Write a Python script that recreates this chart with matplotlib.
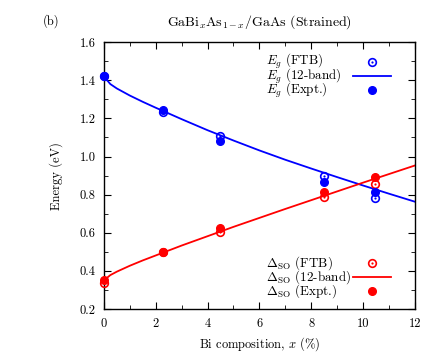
import numpy as np
import matplotlib
matplotlib.use("Agg")
import matplotlib.pyplot as plt
from matplotlib.ticker import MultipleLocator, FuncFormatter

# --- 字型設定 (類 LaTeX) ---
plt.rcParams['font.family'] = ['cmr10', 'DejaVu Serif']
plt.rcParams['mathtext.fontset'] = 'cm'
plt.rcParams['axes.formatter.use_mathtext'] = True
plt.rcParams['font.size'] = 9

# --- 資料 ---
x_pts = [0.0, 2.3, 4.5, 8.5, 10.45]
eg_ftb = [1.42, 1.235, 1.107, 0.897, 0.780]
eg_expt = [1.42, 1.243, 1.079, 0.864, 0.812]
so_ftb = [0.338, 0.497, 0.602, 0.789, 0.854]
so_expt = [0.350, 0.497, 0.623, 0.812, 0.894]

# 12-band 曲線
x_curve = [0, 0.25, 0.5, 1, 1.5, 2, 3, 4, 5, 6, 7, 8, 9, 10, 11, 12]
eg_12band = [1.420, 1.380, 1.357, 1.320, 1.287, 1.256, 1.196, 1.138, 1.084,
             1.032, 0.983, 0.937, 0.892, 0.848, 0.805, 0.763]
so_12band = [0.350, 0.378, 0.396, 0.427, 0.455, 0.481, 0.533, 0.582, 0.631,
             0.678, 0.725, 0.771, 0.817, 0.863, 0.908, 0.953]

eg_labels = [r'$E_g$ (FTB)', r'$E_g$ (12-band)', r'$E_g$ (Expt.)']
so_labels = [r'$\Delta_{\rm SO}$ (FTB)', r'$\Delta_{\rm SO}$ (12-band)',
             r'$\Delta_{\rm SO}$ (Expt.)']

BLUE = '#0000ff'
RED = '#ff0000'
MS = 5.5

fig = plt.figure(figsize=(4.4, 3.54), dpi=100)
ax = fig.add_axes([0.236, 0.127, 0.707, 0.754])

def open_dot(xs, ys, c, **kw):
    ax.plot(xs, ys, 'o', ms=MS, mfc='none', mec=c, mew=1.2, zorder=3,
            clip_on=False, **kw)
    ax.plot(xs, ys, 'o', ms=1.6, mfc=c, mec=c, mew=0, zorder=3,
            clip_on=False, **kw)

def draw_set(c, y_ftb, y_band, y_expt):
    ax.plot(x_curve, y_band, '-', color=c, lw=1.3, zorder=2)
    open_dot(x_pts, y_ftb, c)
    ax.plot(x_pts, y_expt, 'o', ms=MS, color=c, mec=c, zorder=4, clip_on=False)

# 手動圖例 (gnuplot 風格: 文字靠左, 樣本在右)
def draw_key(c, labels, y_rows):
    tx, l0, l1, mx = 0.521, 0.801, 0.923, 0.862
    tr = ax.transAxes
    for lab, yy in zip(labels, y_rows):
        ax.text(tx, yy, lab, transform=tr, ha='left', va='center',
                fontsize=9.4)
    open_dot([mx], [y_rows[0]], c, transform=tr)
    ax.plot([l0, l1], [y_rows[1]] * 2, '-', color=c, lw=1.3, transform=tr)
    ax.plot([mx], [y_rows[2]], 'o', ms=MS, color=c, transform=tr,
            clip_on=False)

draw_set(BLUE, eg_ftb, eg_12band, eg_expt)
draw_set(RED, so_ftb, so_12band, so_expt)
draw_key(BLUE, eg_labels, [0.926, 0.873, 0.820])
draw_key(RED, so_labels, [0.173, 0.121, 0.069])

ax.set_xlim(0, 12)
ax.set_ylim(0.2, 1.6)
ax.xaxis.set_major_locator(MultipleLocator(2))
ax.xaxis.set_minor_locator(MultipleLocator(1))
ax.yaxis.set_major_locator(MultipleLocator(0.2))
ax.yaxis.set_minor_locator(MultipleLocator(0.1))
ax.xaxis.set_major_formatter(FuncFormatter(lambda v, p: f'{v:.0f}'))
ax.yaxis.set_major_formatter(FuncFormatter(lambda v, p: f'{v:.1f}'))
ax.tick_params(which='both', direction='in', top=True, right=True)
ax.tick_params(which='major', length=5, pad=6)
ax.tick_params(which='minor', length=3)
for s in ax.spines.values():
    s.set_linewidth(1.0)

ax.set_xlabel(r'Bi composition, $x$ (%)', labelpad=4)
ax.set_ylabel('Energy (eV)', labelpad=12)
ax.set_title(r'GaBi$_x$As$_{1-x}$/GaAs (Strained)', pad=12, fontsize=10)
fig.text(0.115, 0.94, '(b)', ha='center', va='center')

plt.savefig('out.png', dpi=100)
